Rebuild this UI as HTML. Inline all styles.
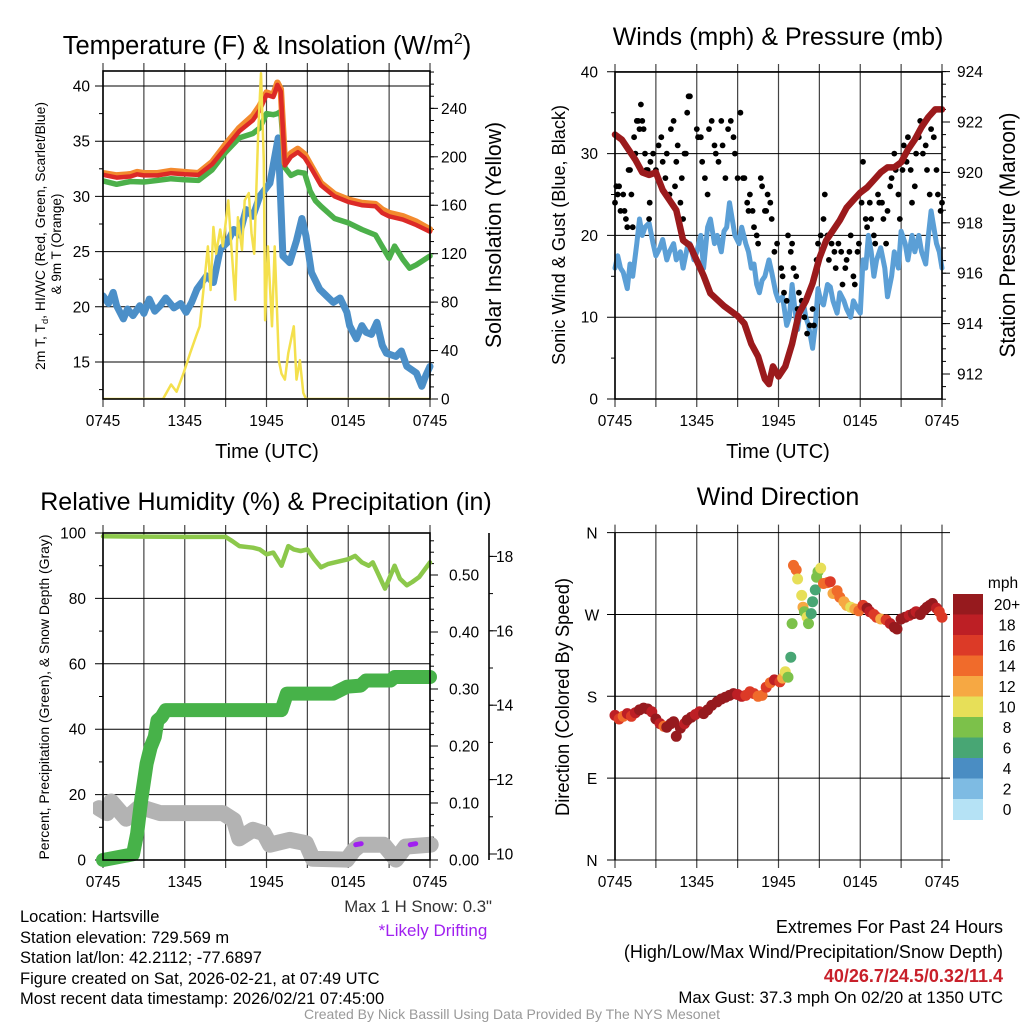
<!DOCTYPE html>
<html><head><meta charset="utf-8"><style>
html,body{margin:0;padding:0;background:#fff;}
svg{display:block;font-family:"Liberation Sans",Arial,sans-serif;}
</style></head><body>
<svg id="fig" width="1024" height="1024" viewBox="0 0 1024 1024" xmlns="http://www.w3.org/2000/svg">
<rect x="0" y="0" width="1024" height="1024" fill="#fff"/>
<text x="267" y="54" font-size="25.5" text-anchor="middle">Temperature (F) &amp; Insolation (W/m<tspan font-size="16" dy="-10">2</tspan><tspan dy="10">)</tspan></text>
<text x="778" y="45" font-size="25" text-anchor="middle">Winds (mph) &amp; Pressure (mb)</text>
<text x="266" y="510" font-size="25" text-anchor="middle">Relative Humidity (%) &amp; Precipitation (in)</text>
<text x="778" y="505" font-size="25" text-anchor="middle">Wind Direction</text>

<text x="267" y="458" font-size="20" text-anchor="middle">Time (UTC)</text>
<text x="778" y="458" font-size="20" text-anchor="middle">Time (UTC)</text>
<text transform="translate(45,236) rotate(-90)" font-size="13.5" text-anchor="middle" textLength="268" lengthAdjust="spacingAndGlyphs">2m T, T<tspan font-size="9" dy="3">d</tspan><tspan dy="-3">, HI/WC (Red, Green, Scarlet/Blue)</tspan></text>
<text transform="translate(61,244) rotate(-90)" font-size="13.5" text-anchor="middle">&amp; 9m T (Orange)</text>
<text transform="translate(501,235) rotate(-90)" font-size="22" text-anchor="middle" textLength="226" lengthAdjust="spacingAndGlyphs">Solar Insolation (Yellow)</text>
<text transform="translate(565,235) rotate(-90)" font-size="18" text-anchor="middle" textLength="260" lengthAdjust="spacingAndGlyphs">Sonic Wind &amp; Gust (Blue, Black)</text>
<text transform="translate(1015,235) rotate(-90)" font-size="22" text-anchor="middle" textLength="245" lengthAdjust="spacingAndGlyphs">Station Pressure (Maroon)</text>
<text transform="translate(49,697) rotate(-90)" font-size="14" text-anchor="middle" textLength="325" lengthAdjust="spacingAndGlyphs">Percent, Precipitation (Green), &amp; Snow Depth (Gray)</text>
<text transform="translate(569,697) rotate(-90)" font-size="19" text-anchor="middle" textLength="238" lengthAdjust="spacingAndGlyphs">Direction (Colored By Speed)</text>

<g font-size="16.5">
<text x="20" y="922">Location: Hartsville</text>
<text x="20" y="943">Station elevation: 729.569 m</text>
<text x="20" y="963">Station lat/lon: 42.2112; -77.6897</text>
<text x="20" y="984">Figure created on Sat, 2026-02-21, at 07:49 UTC</text>
<text x="20" y="1004">Most recent data timestamp: 2026/02/21 07:45:00</text>
</g>
<text x="492" y="912" font-size="16.8" text-anchor="end" fill="#333">Max 1 H Snow: 0.3"</text>
<text x="433" y="936" font-size="17" text-anchor="middle" fill="#a020f0">*Likely Drifting</text>
<g text-anchor="end">
<text x="1003" y="933" font-size="18">Extremes For Past 24 Hours</text>
<text x="1003" y="958" font-size="18">(High/Low/Max Wind/Precipitation/Snow Depth)</text>
<text x="1003" y="982" font-size="18" fill="#c8202a" font-weight="bold">40/26.7/24.5/0.32/11.4</text>
<text x="1003" y="1003" font-size="16.8">Max Gust: 37.3 mph On 02/20 at 1350 UTC</text>
</g>
<text x="512" y="1019" font-size="14" text-anchor="middle" fill="#999">Created By Nick Bassill Using Data Provided By The NYS Mesonet</text>
</svg>
<script>
// ---------- Panel 1 data ----------
const xTickLabels = ["0745","1345","1945","0145","0745"];
const tempHours = [0,1,2,2.5,3,4,5,6,7,8,9,10,11,11.5,12,12.5,12.8,13.05,13.35,13.8,14.3,14.8,15.3,16,17,18,19,20,20.5,21,22,23,24];
const tempRed = [31.96,31.7,31.8,32,31.9,31.9,32.1,32,31.95,32.9,34.4,35.9,36.9,37.8,39.2,39.0,40.1,39.5,32.8,33.6,34,33.5,32.5,31,30,29.5,29.2,29.1,28.5,28.2,27.9,27.4,26.8];
const temp9m = [32.1,31.9,32,32.2,32.1,32.1,32.3,32.2,32.1,33.1,34.7,36.2,37.3,38.2,39.4,39.2,40.3,39.7,33.0,33.9,34.3,33.8,32.7,31.2,30.2,29.7,29.4,29.3,28.8,28.5,28.2,27.7,27.0];
const hiwcHours = [0,1,2,3,4,5,6,7,8,9,10,11,11.5,12,12.5,12.8,13.05,13.35,13.8,14.3,14.8,15.2,15.6,16,17,18,19,20,21,21.4,22,22.5,23,24];
const hiwc = [31.4,31.1,31.35,31.3,31.45,31.6,31.5,31.45,32.4,34,35.3,35.7,36.2,37.5,37.4,37.5,37.7,32.6,31.9,32.2,32.1,30.5,29.6,29.1,28,27.6,27,26.5,24.4,25.5,24.3,23.5,23.8,24.6];
const dewHours = [0,0.4,0.75,1,1.5,1.8,2.2,2.7,3.0,3.4,3.8,4.2,4.6,5.2,5.7,6.1,6.5,6.9,7.6,8.1,8.6,9.1,9.6,10.0,10.5,11.0,11.5,12.25,12.86,13.2,13.7,14.2,14.6,14.9,15.3,15.9,16.4,16.9,17.4,17.9,18.1,18.6,19.0,19.3,19.7,20.1,20.5,20.8,21.5,21.9,22.3,23,23.4,23.7,24];
const dewpoint = [21,20.3,21.3,20.1,18.9,19.8,19.2,20.1,19.4,20.7,19.6,20.1,20.8,19.9,20.3,19.5,20.4,21.6,22.8,22.2,25.2,25.8,27,26.5,28.8,28.2,30,31.2,35.3,24.6,24,26,28,26.4,23.1,21.6,21.0,20.4,20.8,19.5,18.3,17.1,18.3,17.7,17.5,18.6,16.5,15.8,15.5,16.0,14.6,14,12.8,13.8,14.6];
const solarHours = [0,4.4,5.0,5.4,5.9,6.4,6.9,7.1,7.5,7.7,7.9,8.1,8.3,8.6,8.8,9.2,9.4,9.7,9.9,10.2,10.4,10.7,10.9,11.1,11.4,11.6,11.8,11.9,12.1,12.4,12.6,12.9,13.1,13.35,13.6,14,14.2,14.45,14.7,14.9,24];
const solar = [0,0,12,6,21,38,54,60,104,126,90,142,120,140,126,164,129,82,150,123,164,170,137,120,222,269,197,65,126,60,126,32,21,16,38,60,16,32,5,0,0];
const tempTicks = [15,20,25,30,35,40];
const solarTicks = [0,40,80,120,160,200,240];
// ---------- Panel 2 data ----------
const windHours = [0,0.2,0.4,0.6,0.9,1.1,1.3,1.6,1.8,2.0,2.2,2.5,2.8,3.0,3.3,3.5,3.8,4.0,4.3,4.5,4.8,5,5.3,5.5,5.8,6,6.3,6.5,6.8,7,7.3,7.5,7.8,8,8.2,8.4,8.6,8.8,9.1,9.3,9.6,9.8,10.0,10.2,10.4,10.6,10.8,11,11.3,11.5,11.8,12,12.3,12.6,12.8,13,13.2,13.4,13.6,13.8,14.0,14.2,14.5,14.7,14.9,15.1,15.3,15.6,15.8,16.0,16.3,16.5,16.8,17.0,17.3,17.5,17.8,18.0,18.2,18.4,18.6,18.8,19,19.2,19.5,19.8,20.0,20.3,20.5,20.8,21.0,21.3,21.5,21.8,22.0,22.3,22.5,22.8,23.0,23.2,23.4,23.6,23.8,24];
const windSpeed = [16,17.5,16,15.5,13.5,16.5,15,19,22,20,21,21.5,19,17.5,18.5,19.5,17,18,19,17,18,16,18.5,19,17,18,20,16,21,22,19,20,18,20.5,21,24,22,20,19,21,19,18,16,16.5,14,13,14.5,15,17,15.5,13,12,12.5,9,10,14,11,8.5,11,12,10,9,6.2,9,13.5,12,11.5,14,13.7,12,10.5,13,12,11,10,12,11,10.5,17,16,20,18,15,17,18.5,16,12.5,15,18,16,20.5,19,17,20,18,20,18,16.5,20,23,21,19,18,16];
const gustHours = [0,0.1,0.2,0.3,0.4, 0.6,0.7,0.8,0.9,1.0,1.1,1.2,1.3, 1.4,1.5,1.6,1.7,1.8,1.9,2.0,2.1,2.2,2.3,2.4,2.5,2.55,2.6, 2.8,3.0,3.2,3.4,3.5,3.7,3.8,4.0,4.1,4.3, 4.4,4.5,4.6,4.8,4.9,5.0,5.1,5.2,5.3,5.4,5.5, 6.0,6.1,6.3,6.4,6.6,6.8,6.9,7.1,7.3,7.4, 7.6,7.8,7.9,8.1,8.3,8.5,8.7,8.8,9.0,9.2, 9.4,9.5,9.7,9.8,9.9,10.1,10.2,10.4,10.5, 10.7,10.8,11.0,11.1,11.2,11.4,11.5,11.7,11.9, 12.2,12.3,12.4,12.6,12.7,12.9,13.0,13.1,13.3,13.4,13.5, 13.7,13.9,14.1,14.3,14.5,14.6,14.8,14.9, 15.1,15.3,15.4,15.6,15.7,15.9,16.1,16.2,16.4, 16.6,16.7,16.9,17.0,17.2,17.3,17.5,17.6,17.8,17.9, 18.1,18.2,18.4,18.5,18.7,18.8,19.0,19.1,19.3,19.4, 19.6,19.7,19.9,20.0,20.2,20.3,20.5,20.6,20.8,20.9, 21.1,21.2,21.4,21.5,21.7,21.8,22.0,22.1,22.3,22.4, 22.6,22.8,22.9,23.1,23.2,23.4,23.6,23.7,23.9,24.0];
const gustSpeed = [24,26,25,26,23, 25,23,22,21,28,28,25,21, 32,30,34,34,33,36,34,33,30,28,28,22,24,29, 30,28,31,32,29,27,30,25,33,34, 26,29,31,24,27,22,30,30,35,37,37, 33,32,32,29,27,25,33,34,31,30, 29,34,31,27,33,34,32,30,27,35, 27,27,24,23,25,23,21,20,19, 27,26,23,23,25,24,22,18,19, 16,15,13,12,20,18,19,16,15,11,13, 12,10,8,9,11,9,17,19, 20,22,25,20,17,19,18,16,19, 18,14,16,17,18,20,15,14,18,19, 24,29,22,21,24,22,20,19,25,24, 24,22,19,23,26,27,30,28,25,22, 28,31,29,32,28,24,26,30,32,34, 30,31,28,25,33,32,28,25,23,24];
const pressHours = [0,0.5,1,1.5,2,2.5,3,3.5,4,4.5,5,5.5,6,6.5,7,8,9,9.5,10,10.5,11,11.3,11.6,12,12.5,13,13.5,14,14.5,15,15.5,16,16.5,17,17.5,18,18.5,19,19.5,20,20.5,21,21.5,22,22.5,23,23.5,24];
const pressure = [921.5,921.3,920.9,920.5,920,919.9,920,919.3,918.9,918.5,917.3,917.1,916.5,915.9,915.2,914.7,914.3,914,913.2,912.7,911.8,911.6,912.3,911.9,912.3,913.2,914.4,914.9,915.6,916.6,917.3,917.7,918.1,918.6,918.9,919.2,919.4,919.7,920,920.2,920.2,920.4,920.9,921.3,921.8,922.2,922.5,922.5];
const windTicks = [0,10,20,30,40];
const pressTicks = [912,914,916,918,920,922,924];
// ---------- Panel 3 data ----------
const rhHours = [0,6,9,9.5,10,11,11.5,12,12.5,13.1,13.6,14,14.5,15,15.5,16,16.5,17,18,18.5,19,19.5,19.8,20.2,20.7,21.4,21.8,22.3,22.7,23.2,24];
const rh = [99,98.8,98.8,97.5,96,95.5,95,93.5,94,90,96,95,94.5,95,92,89.5,90.5,91,92,93,91,90,91,87.5,83,90,86,84,85,86.5,91];
const precipHours = [0,2.2,2.5,2.8,3.2,3.5,3.8,4.0,4.3,4.6,13.1,13.5,16.9,17.9,18.9,19.3,21.1,21.4,24];
const precip = [0,0.01,0.046,0.105,0.169,0.198,0.216,0.245,0.251,0.263,0.263,0.292,0.292,0.304,0.306,0.315,0.315,0.321,0.321];
const snowHours = [-0.3,0.3,0.6,1.7,2.7,4.2,8.8,9.6,10,11,11.8,12.25,13.7,14.9,15.4,17.9,18.4,18.9,20.6,21.5,22.2,24.05];
const snowDepth = [11.23,11.1,11.41,10.95,11.27,11.1,11.1,10.91,10.42,10.65,10.56,10.25,10.38,10.29,9.87,9.85,10.1,10.25,10.25,9.85,10.2,10.25];
const driftHours = [18.75,22.75];
const driftDepth = [10.25,10.25];
const rhTicks = [0,20,40,60,80,100];
const precipTicks = [0,0.1,0.2,0.3,0.4,0.5];
const precipTickLabels = ["0.00","0.10","0.20","0.30","0.40","0.50"];
const snowTicks = [10,12,14,16,18];
// ---------- Panel 4 data ----------
const dirHours = [0,0.3,0.6,0.9,1.2,1.5,1.8,2.1,2.4,2.7,3.0,3.3,3.6,3.8,4.1,4.3,4.5,4.8,5.1,5.3,5.6,5.9,6.2,6.5,6.8,7.1,7.5,7.8,8.1,8.4,8.7,9.0,9.3,9.6,9.9,10.2,10.5,10.8,11.1,11.4,11.7,12.1,12.3,12.5,12.7,12.9,13.0,13.1,13.3,13.4,13.7,13.8,13.9,14.1,14.2,14.4,14.5,14.7,14.8,14.9,15.1,15.3,15.6,15.8,16.0,16.3,16.5,16.8,17.0,17.3,17.6,17.9,18.2,18.5,18.7,19.0,19.2,19.5,19.9,20.2,20.5,20.7,21.0,21.3,21.6,21.9,22.1,22.4,22.7,22.9,23.1,23.3,23.6,23.8,24];
const dirDeg = [159,155,158,161,158,162,165,167,166,163,155,150,147,146,150,152,136,145,150,154,157,160,163,161,165,170,174,177,179,181,183,182,180,181,185,183,180,181,190,195,198,196,200,207,201,223,260,324,319,309,291,278,273,267,260,271,284,297,311,317,321,304,305,306,293,296,289,284,280,278,276,274,280,277,273,270,267,265,264,260,256,254,265,267,269,271,273,270,275,278,280,282,277,273,267];
const dirSpeed = [18,17,15,19,17,18,20,20,20,19,20,19,14,20,20,20,20,20,19,20,20,18,19,20,20,20,20,20,20,20,20,19,19,17,16,17,15,14,16,14,18,16,13,11,9,7,9,15,14,11,11,13,9,10,9,7,7,7,8,9,10,15,15,16,13,14,15,13,12,11,12,14,17,20,19,16,17,13,16,18,20,20,20,20,19,20,18,20,20,20,20,20,18,17,17];
const dirTicks = [0,90,180,270,360];
const dirTickLabels = ["N","E","S","W","N"];
const speedColors = ["#b5e2f5","#7ebbe3","#4a8dc3","#48a674","#7cc14a","#e7df58","#f6a843","#f06b2b","#dc3a27","#bd1f25","#961a1e"];
const speedLabels = ["0","2","4","6","8","10","12","14","16","18","20+"];

const NS = "http://www.w3.org/2000/svg";
const svg = document.getElementById("fig");
function mk(tag, attrs, parent) {
  const el = document.createElementNS(NS, tag);
  for (const k in attrs) el.setAttribute(k, attrs[k]);
  (parent || svg).appendChild(el);
  return el;
}
function pathD(xs, ys, xf, yf) {
  let d = "";
  for (let i = 0; i < xs.length; i++) d += (i ? "L" : "M") + xf(xs[i]).toFixed(1) + "," + yf(ys[i]).toFixed(1);
  return d;
}
function seriesLine(g, xs, ys, xf, yf, color, w, name) {
  const el = mk("path", {d: pathD(xs, ys, xf, yf), fill: "none", stroke: color, "stroke-width": w, "stroke-linejoin": "round", "stroke-linecap": "round"}, g);
  
  
  return el;
}
function frame(name, x0, x1, y0, y1) {
  const g = mk("g", {}, svg);
  
  
  const xf = h => x0 + h * (x1 - x0) / 24;
  for (let i = 0; i <= 8; i++) {
    const x = xf(i * 3);
    const v = mk("line", {x1: x, x2: x, y1: y0 - 8, y2: y1 + 8, stroke: "#444", "stroke-width": 1.2}, g);
    
    
  }
  for (let i = 0; i < xTickLabels.length; i++) {
    const t = mk("text", {x: xf(i * 6), y: y1 + 27, "font-size": 15.5, "text-anchor": "middle"}, g);
    t.textContent = xTickLabels[i];
    
    
  }
  return {g, xf};
}
function hGrid(g, ticks, yf, x0, x1, labels, lx) {
  for (let i = 0; i < ticks.length; i++) {
    const y = yf(ticks[i]);
    const l = mk("line", {x1: x0 - 8, x2: x1, y1: y, y2: y, stroke: "#000", "stroke-width": 1}, g);
    
    
    const t = mk("text", {x: lx, y: y + 5.5, "font-size": 15.5, "text-anchor": "end"}, g);
    t.textContent = labels ? labels[i] : String(ticks[i]);
    
    
  }
}
function rightAxis(g, ticks, labels, yf, x, lx, minorStep, lo, hi) {
  for (let v = lo; v <= hi + 1e-9; v += minorStep) {
    const y = yf(v);
    const m = mk("line", {x1: x, x2: x + 4, y1: y, y2: y, stroke: "#000", "stroke-width": 1}, g);
    
    
  }
  for (let i = 0; i < ticks.length; i++) {
    const y = yf(ticks[i]);
    const l = mk("line", {x1: x, x2: x + 8, y1: y, y2: y, stroke: "#000", "stroke-width": 1}, g);
    
    
    const t = mk("text", {x: lx, y: y + 5.5, "font-size": 15.5}, g);
    t.textContent = labels[i];
    
    
  }
}
function border(g, x0, x1, y0, y1) {
  const r = mk("rect", {x: x0, y: y0, width: x1 - x0, height: y1 - y0, fill: "none", stroke: "#000", "stroke-width": 1.6}, g);
  
  
}
function clipFor(id, x0, x1, y0, y1) {
  const cp = mk("clipPath", {id: id}, svg);
  mk("rect", {x: x0, y: y0, width: x1 - x0, height: y1 - y0}, cp);
  return "url(#" + id + ")";
}

// ===== Panel 1 =====
(function () {
  const x0 = 103, x1 = 430, y0 = 71, y1 = 399;
  const {g, xf} = frame("temperature-panel", x0, x1, y0, y1);
  const yT = v => 362 - (v - 15) * 11.04;
  const yS = v => 399 - v * 1.211;
  hGrid(g, tempTicks, yT, x0, x1, null, 90);
  for (let v = 12.5; v <= 40; v += 5) {
    const y = yT(v);
    const m = mk("line", {x1: x0 - 4, x2: x0, y1: y, y2: y, stroke: "#000"}, g);
    
    
  }
  rightAxis(g, solarTicks, solarTicks.map(String), yS, x1, 441, 10, 0, 270);
  const pg = mk("g", {"clip-path": clipFor("c1", x0, x1 + 4, y0 - 4, y1)}, g);
  seriesLine(pg, dewHours, dewpoint, xf, yT, "#4b8fc8", 7, "dewpoint-line");
  seriesLine(pg, hiwcHours, hiwc, xf, yT, "#4cb04a", 5.5, "heat-index-wind-chill-line");
  seriesLine(pg, tempHours, temp9m, xf, yT, "#f38a2e", 6.5, "temp-9m-line");
  seriesLine(pg, tempHours, tempRed, xf, yT, "#dc2a27", 4.5, "temp-2m-line");
  seriesLine(pg, solarHours, solar, xf, yS, "#f4e04d", 2.5, "solar-insolation-line");
  border(g, x0, x1, y0, y1);
})();

// ===== Panel 2 =====
(function () {
  const x0 = 615, x1 = 942, y0 = 72, y1 = 399;
  const {g, xf} = frame("winds-panel", x0, x1, y0, y1);
  const yW = v => 399 - v * 8.18;
  const yP = p => 374 - (p - 912) * 25.2;
  hGrid(g, windTicks, yW, x0, x1, null, 598);
  for (let v = 5; v <= 40; v += 10) {
    const y = yW(v);
    const m = mk("line", {x1: x0 - 4, x2: x0, y1: y, y2: y, stroke: "#000"}, g);
    
    
  }
  rightAxis(g, pressTicks, pressTicks.map(String), yP, x1, 957, 0.5, 911, 924);
  const pg = mk("g", {"clip-path": clipFor("c2", x0 - 4, x1 + 4, y0 - 4, y1)}, g);
  seriesLine(pg, windHours, windSpeed, xf, yW, "#5b9fd6", 5, "sonic-wind-line");
  for (let i = 0; i < gustHours.length; i++) {
    const c = mk("circle", {cx: xf(gustHours[i]).toFixed(1), cy: yW(gustSpeed[i]).toFixed(1), r: 2.9, fill: "#000"}, pg);
    
    
  }
  seriesLine(pg, pressHours, pressure, xf, yP, "#9b1a1c", 6.5, "pressure-line");
  border(g, x0, x1, y0, y1);
})();

// ===== Panel 3 =====
(function () {
  const x0 = 103, x1 = 430, y0 = 533, y1 = 860;
  const {g, xf} = frame("humidity-panel", x0, x1, y0, y1);
  const yR = v => 860 - v * 3.27;
  const yPr = v => 860 - v * 570;
  const ySn = v => 854 - (v - 10) * 37.2;
  hGrid(g, rhTicks, yR, x0, x1, null, 86);
  for (let v = 10; v <= 90; v += 20) {
    const y = yR(v);
    const m = mk("line", {x1: x0 - 4, x2: x0, y1: y, y2: y, stroke: "#000"}, g);
    
    
  }
  rightAxis(g, precipTicks, precipTickLabels, yPr, x1, 449, 0.02, 0, 0.57);
  const ax = mk("line", {x1: 489, x2: 489, y1: y0, y2: y1, stroke: "#000", "stroke-width": 1.6}, g);
  
  
  rightAxis(g, snowTicks, snowTicks.map(String), ySn, 489, 496, 1, 10, 18.6);
  const pg = mk("g", {"clip-path": clipFor("c3", x0 - 10, x1 + 10, y0 - 4, y1 + 10)}, g);
  seriesLine(pg, snowHours, snowDepth, xf, ySn, "#b3b3b3", 16, "snow-depth-line");
  for (let i = 0; i < driftHours.length; i++) {
    const d = mk("line", {x1: xf(driftHours[i] - 0.2), x2: xf(driftHours[i] + 0.2), y1: ySn(driftDepth[i]), y2: ySn(driftDepth[i]) - 1, stroke: "#a020f0", "stroke-width": 5, "stroke-linecap": "round"}, pg);
    
    
  }
  seriesLine(pg, precipHours, precip, xf, yPr, "#47b249", 14, "precipitation-line");
  seriesLine(pg, rhHours, rh, xf, yR, "#8cc84b", 4.5, "relative-humidity-line");
  border(g, x0, x1, y0, y1);
})();

// ===== Panel 4 =====
(function () {
  const x0 = 615, x1 = 942, y0 = 532.6, y1 = 860;
  const {g, xf} = frame("wind-direction-panel", x0, x1, y0, y1);
  const yD = d => 860 - d * 0.9094;
  for (let i = 0; i < dirTicks.length; i++) {
    const y = yD(dirTicks[i]);
    const l = mk("line", {x1: x0 - 8, x2: x1 + 8, y1: y, y2: y, stroke: "#000", "stroke-width": 1}, g);
    
    
    const t = mk("text", {x: 592, y: y + 6, "font-size": 15.5, "text-anchor": "middle"}, g);
    t.textContent = dirTickLabels[i];
    
    
  }
  const lb = mk("line", {x1: x0, x2: x0, y1: y0, y2: y1, stroke: "#000", "stroke-width": 1.6}, g);
  
  
  for (let i = 0; i < dirHours.length; i++) {
    const idx = Math.min(10, Math.floor(dirSpeed[i] / 2));
    const c = mk("circle", {cx: xf(dirHours[i]).toFixed(1), cy: yD(dirDeg[i]).toFixed(1), r: 5.5, fill: speedColors[idx]}, g);
    
    
  }
  const cb = mk("g", {}, svg);
  
  
  const top = 594, bh = 20.5;
  const mt = mk("text", {x: 1003, y: 588, "font-size": 15.5, "text-anchor": "middle"}, cb);
  mt.textContent = "mph";
  
  
  for (let i = 0; i < speedColors.length; i++) {
    const k = speedColors.length - 1 - i;
    const r = mk("rect", {x: 953, y: top + i * bh, width: 30, height: bh + 0.5, fill: speedColors[k]}, cb);
    
    
    const t = mk("text", {x: 1007, y: top + i * bh + bh / 2 + 5.5, "font-size": 15.5, "text-anchor": "middle"}, cb);
    t.textContent = speedLabels[k];
    
    
  }
})();
</script>
</body></html>
